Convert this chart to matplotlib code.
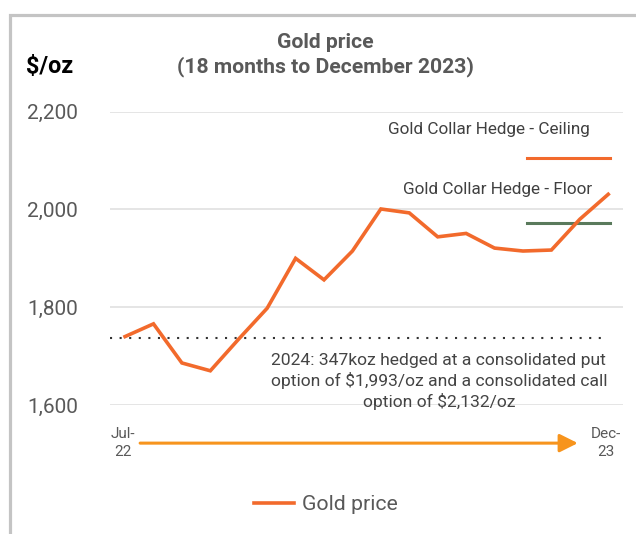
import numpy as np
import matplotlib
matplotlib.use("Agg")
import matplotlib.pyplot as plt
from matplotlib.patches import Rectangle

plt.rcParams['font.family'] = ['Roboto', 'DejaVu Sans']

# data (monthly average, Jul-22 .. Dec-23)
months = ["Jul-22", "Aug-22", "Sep-22", "Oct-22", "Nov-22", "Dec-22",
          "Jan-23", "Feb-23", "Mar-23", "Apr-23", "May-23", "Jun-23",
          "Jul-23", "Aug-23", "Sep-23", "Oct-23", "Nov-23", "Dec-23"]
gold_price = [1740, 1766, 1686, 1670, 1735, 1798,
              1900, 1856, 1915, 2001, 1993, 1944,
              1951, 1921, 1915, 1917, 1980, 2031]
hedge_ceiling = 2106
hedge_floor = 1973
dotted_level = 1737
y_ticks = [1600, 1800, 2000, 2200]
y_ticklabels = ["1,600", "1,800", "2,000", "2,200"]
x_end_labels = ["Jul-\n22", "Dec-\n23"]
note = ("2024: 347koz hedged at a consolidated put\n"
        "option of $1,993/oz and a consolidated call\n"
        "option of $2,132/oz")

ORANGE = "#f26a2c"
ARROW = "#f7941d"
GREEN = "#5a7a5c"
GREY = "#595959"

W, H = 636, 534
fig = plt.figure(figsize=(W / 100, H / 100), dpi=100)
ax = fig.add_axes([110 / W, 1 - 405 / H, 513 / W, 293.3 / H])

x = np.arange(len(months))
line, = ax.plot(x, gold_price, color=ORANGE, lw=2.6, solid_joinstyle='miter',
                label="Gold price", zorder=3)

ax.set_xlim(-0.53, 17.52)
ax.set_ylim(1600, 2200)
ax.set_yticks(y_ticks)
ax.set_yticklabels(y_ticklabels)
# labels left-aligned at x~27px, i.e. 83px left of the axes
ax.tick_params(axis='y', length=0, pad=83 * 0.72, labelsize=15, labelcolor=GREY)
for t in ax.get_yticklabels():
    t.set_horizontalalignment('left')
ax.set_xticks([])
ax.grid(axis='y', color="#e3e3e3", lw=1.3)
ax.set_axisbelow(True)
for s in ax.spines.values():
    s.set_visible(False)

# hedge lines
ax.plot([14.13, 17.06], [hedge_ceiling, hedge_ceiling], color=ORANGE, lw=2.2)
ax.plot([14.13, 17.06], [hedge_floor, hedge_floor], color=GREEN, lw=2.2)
ax.text(12.8, 2163, "Gold Collar Hedge - Ceiling", ha='center', va='center',
        fontsize=12.3, color="#404040")
ax.text(13.1, 2041, "Gold Collar Hedge - Floor", ha='center', va='center',
        fontsize=12.3, color="#404040")

# dotted reference line and note
ax.plot([-0.53, 17], [dotted_level, dotted_level], color="#333333", lw=1.5,
        linestyle=(0, (1, 3.6)), zorder=2)
ax.text(11.04, 1707, note, ha='center', va='top', fontsize=12.6, color="#444444",
        linespacing=1.29)

# x end labels and arrow
ax.text(-0.07, -0.13, x_end_labels[0], transform=ax.get_xaxis_transform(),
        ha='center', va='center', fontsize=11, color=GREY, linespacing=1.3)
ax.text(16.92, -0.13, x_end_labels[1], transform=ax.get_xaxis_transform(),
        ha='center', va='center', fontsize=11, color=GREY, linespacing=1.3)
ax.annotate("", xy=(15.93, -0.13), xytext=(0.53, -0.13),
            xycoords=ax.get_xaxis_transform(), textcoords=ax.get_xaxis_transform(),
            arrowprops=dict(arrowstyle="-|>,head_length=1.1,head_width=0.55",
                            color=ARROW, lw=2.2, shrinkA=0, shrinkB=0),
            annotation_clip=False)

# titles
fig.text(325 / W, 1 - 42 / H, "Gold price", ha='center', va='center',
         fontsize=15.2, fontweight='bold', color=GREY)
fig.text(325 / W, 1 - 67 / H, "(18 months to December 2023)", ha='center',
         va='center', fontsize=15.2, fontweight='bold', color=GREY)
fig.text(26 / W, 1 - 67 / H, "$/oz", ha='left', va='center', fontsize=16.8,
         fontweight='bold', color="black")

fig.legend(handles=[line], loc='center', bbox_to_anchor=(326 / W, 1 - 505 / H),
           frameon=False, fontsize=15.3, handlelength=1.88, handletextpad=0.38,
           labelcolor=GREY)

# frame around the chart
fig.add_artist(Rectangle((9.5 / W, -0.2), 1.2, 1.2 - 14.5 / H, transform=fig.transFigure,
                         fill=False, edgecolor="#c4c4c4", lw=2.3))

fig.savefig("out.png", dpi=100)
